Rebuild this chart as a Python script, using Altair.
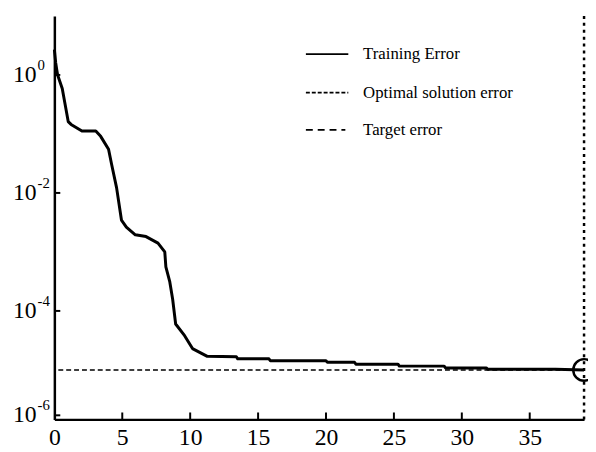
import altair as alt
import pandas as pd

# ---- data ----
iterations = [0.0, 0.10, 0.17, 0.24, 0.58, 1.02, 1.23, 2.03, 3.05, 3.41, 3.99, 4.21,
              4.58, 4.94, 5.30, 5.96, 6.75, 7.63, 8.13, 8.21, 8.50, 8.71, 8.93, 9.59,
              10.17, 11.26, 13.4, 13.5, 15.8, 15.9, 20.0, 20.1, 22.1, 22.2, 25.3, 25.4,
              28.7, 28.8, 31.8, 31.9, 36.9, 39.0]
training_error = [2.7, 1.6, 1.25, 1.0, 0.59, 0.162, 0.145, 0.112, 0.112, 0.091, 0.055, 0.031,
                  0.0123, 0.00347, 0.00263, 0.00195, 0.00182, 0.00141, 0.00100, 5.6e-4, 3.1e-4, 1.58e-4, 6.0e-5, 3.8e-5,
                  2.3e-5, 1.70e-5, 1.67e-5, 1.54e-5, 1.54e-5, 1.43e-5, 1.43e-5, 1.35e-5, 1.35e-5, 1.25e-5, 1.25e-5, 1.16e-5,
                  1.16e-5, 1.08e-5, 1.08e-5, 1.03e-5, 1.03e-5, 1.0e-5]
target_error = [1e-5]
optimal_iteration = [39]
x_ticks = [0, 5, 10, 15, 20, 25, 30, 35]
y_tick_values = [1.0, 1e-2, 1e-4, 1.7e-6]
y_tick_exponents = ["0", "-2", "-4", "-6"]
legend_labels = ["Training Error", "Optimal solution error", "Target error"]

FONT = "Liberation Serif"
W, H = 537, 409

xs = alt.Scale(domain=[0, 39], nice=False, zero=False)
ys = alt.Scale(type="log", domain=[1.45e-6, 10], nice=False)

xax = alt.Axis(values=x_ticks, title=None, grid=False, ticks=False, tickSize=0,
               labelFont=FONT, labelFontSize=24, labelColor="black",
               labelPadding=6, labelFlush=False, labelOverlap=False,
               domainColor="black", domainWidth=2.5)
yax = alt.Axis(labels=False, ticks=False, title=None, grid=False,
               domainColor="black", domainWidth=2.5)


def X(f="iter:Q"):
    return alt.X(f, scale=xs, axis=xax)


def Y(f="err:Q"):
    return alt.Y(f, scale=ys, axis=yax)


df = pd.DataFrame({"iter": iterations, "err": training_error})

line = alt.Chart(df).mark_line(color="black", strokeWidth=3, strokeJoin="round").encode(
    x=X(), y=Y())

target = alt.Chart(pd.DataFrame({"err": target_error})).mark_rule(
    color="black", strokeWidth=1.5, strokeDash=[5, 3]
).encode(y=Y())

optimal = alt.Chart(pd.DataFrame({"iter": optimal_iteration})).mark_rule(
    color="black", strokeWidth=2.5, strokeDash=[3, 4]
).encode(x=X())

end_marker = alt.Chart(df.tail(1)).mark_point(
    shape="circle", filled=False, size=480, strokeWidth=2.5, color="black", opacity=1
).encode(x=X(), y=Y())

xt = alt.Chart(pd.DataFrame({"iter": x_ticks[1:]})).mark_rule(color="black", strokeWidth=2).encode(
    x=X(), y=alt.value(H), y2=alt.value(H - 7))

ydf = pd.DataFrame({"err": y_tick_values, "exp": y_tick_exponents})
yt = alt.Chart(ydf).mark_rule(color="black", strokeWidth=2).encode(
    y=Y(), x=alt.value(0), x2=alt.value(6))

ybase = alt.Chart(ydf).mark_text(align="right", baseline="middle", font=FONT, fontSize=24,
                                 color="black").encode(
    y=Y(), x=alt.value(-18), text=alt.value("10"))
yexp = alt.Chart(ydf).mark_text(align="left", baseline="middle", font=FONT, fontSize=15,
                                dy=-10, color="black").encode(
    y=Y(), x=alt.value(-17), text="exp:N")

# ---- manual legend ----
leg_rows = [38.7, 77.7, 115.5]
leg_dash = [[1, 0], [4, 2], [7, 5]]
leg_x2 = [298, 298, 295]
legend_layers = []
for i, lab in enumerate(legend_labels):
    src = pd.DataFrame({"label": [lab]})
    legend_layers.append(
        alt.Chart(src).mark_rule(color="black", strokeWidth=2 if i == 0 else 1.8,
                                 strokeDash=leg_dash[i]).encode(
            x=alt.value(255), x2=alt.value(leg_x2[i]), y=alt.value(leg_rows[i])))
    legend_layers.append(
        alt.Chart(src).mark_text(align="left", baseline="middle", font=FONT, fontSize=17,
                                 color="black").encode(
            x=alt.value(313), y=alt.value(leg_rows[i]), text="label:N"))

chart = alt.layer(line, target, optimal, end_marker, xt, yt, ybase, yexp, *legend_layers).properties(
    width=W, height=H,
    padding={"left": 47, "top": 5, "right": 4, "bottom": 30},
    autosize=alt.AutoSizeParams(type="none"),
    background="white",
).configure_view(stroke=None)

chart.save("out.html", embed_options={"renderer": "svg", "actions": False})
